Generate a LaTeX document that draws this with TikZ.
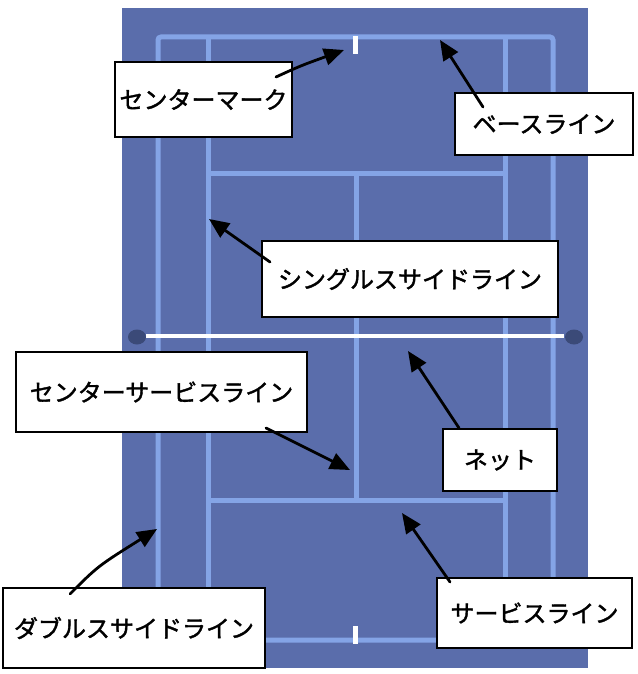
\documentclass[tikz,border=0pt]{standalone}
\usepackage{fontspec}
\newfontfamily\jpfont[FakeBold=1.6]{Noto Sans CJK JP}
\usetikzlibrary{arrows.meta}
\definecolor{courtblue}{HTML}{5A6DAB}
\definecolor{courtline}{HTML}{84A4E6}
\definecolor{postdark}{HTML}{3B4A78}
\tikzset{
  label box/.style={draw=black, line width=2.6pt, fill=white, inner sep=0pt,
    font=\jpfont\fontsize{24}{24}\selectfont},
  pointer/.style={line width=2.8pt, -{Triangle[length=20pt,width=17pt]}, line cap=round},
  court line/.style={courtline, line width=5pt},
}
\begin{document}
\begin{tikzpicture}[x=1pt,y=-1pt]
\useasboundingbox (0,0) rectangle (637,674);

% court surface
\fill[courtblue] (122,8) rectangle (588,668);

% doubles boundary and baselines
\draw[court line, rounded corners=3pt] (158,37) rectangle (553,640);
% singles side lines
\draw[court line] (208,37) -- (208,640);
\draw[court line] (505,37) -- (505,640);
% service lines
\draw[court line] (208,173) -- (505,173);
\draw[court line] (208,500) -- (505,500);
% centre service line
\draw[court line] (356,173) -- (356,500);
% centre marks
\fill[white] (353,36) rectangle (358,54);
\fill[white] (353,626) rectangle (358,644);

% net and posts
\draw[white, line width=4.5pt] (146,336) -- (564,336);
\fill[postdark] (137,337) ellipse (9pt and 7.5pt);
\fill[postdark] (574,337) ellipse (9pt and 7.5pt);

% label boxes
\node[label box, minimum width=177pt, minimum height=75pt] (cm) at (203.5,99.5) {センターマーク};
\node[label box, minimum width=178pt, minimum height=62pt] (bl) at (544,124) {ベースライン};
\node[label box, minimum width=296pt, minimum height=76pt] (ss) at (410,279) {シングルスサイドライン};
\node[label box, minimum width=291pt, minimum height=80pt] (cs) at (161.5,392) {センターサービスライン};
\node[label box, minimum width=114pt, minimum height=62pt] (nt) at (500,460) {ネット};
\node[label box, minimum width=262pt, minimum height=80pt] (ds) at (134,628) {ダブルスサイドライン};
\node[label box, minimum width=195pt, minimum height=70pt] (sl) at (534.5,613) {サービスライン};

% arrow end points on the court
\coordinate (cmT) at (344,50);
\coordinate (blT) at (440,40);
\coordinate (ssT) at (209,219);
\coordinate (csT) at (350,470);
\coordinate (ntT) at (408,351);
\coordinate (dsT) at (157,529);
\coordinate (slT) at (402,513);

% arrow start points on the boxes
\coordinate (cmS) at (276,77);
\coordinate (blS) at (483,107);
\coordinate (ssS) at (270,262);
\coordinate (csS) at (266,428);
\coordinate (ntS) at (459,428);
\coordinate (dsS) at (70,594);
\coordinate (slS) at (450,582);

% pointers
\draw[pointer] (cmS) .. controls (300,66) .. (cmT);
\draw[pointer] (blS) -- (blT);
\draw[pointer] (ssS) -- (ssT);
\draw[pointer] (csS) -- (csT);
\draw[pointer] (ntS) -- (ntT);
\draw[pointer] (dsS) .. controls (98,566) .. (dsT);
\draw[pointer] (slS) -- (slT);
\end{tikzpicture}
\end{document}
